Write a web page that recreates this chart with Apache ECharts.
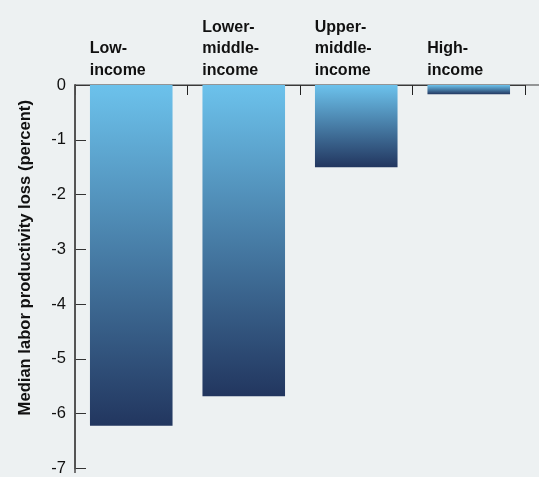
<!DOCTYPE html>
<html>
<head>
<meta charset="utf-8">
<script src="https://cdn.jsdelivr.net/npm/echarts@6/dist/echarts.min.js"></script>
<style>
  html, body { margin: 0; padding: 0; background: #edf1f2; }
  #chart { width: 539px; height: 477px; }
</style>
</head>
<body>
<div id="chart"></div>
<script>
// Income groups (two-line labels) and median productivity loss, percent
const categories = ['Low-\nincome', 'Lower-\nmiddle-\nincome', 'Upper-\nmiddle-\nincome', 'High-\nincome'];
const lossValues = [-6.22, -5.68, -1.5, -0.17];
const yTicks = { min: -7, max: 0, interval: 1 };
const yTitle = 'Median labor productivity loss (percent)';

const FONT = '"Liberation Sans", Arial, sans-serif';
const GRID = { left: 75, right: 14, top: 85, bottom: 4 };
const chart = echarts.init(document.getElementById('chart'));
const W = chart.getWidth();
const H = chart.getHeight();

const barGradient = new echarts.graphic.LinearGradient(0, 0, 0, 1, [
  { offset: 0, color: '#6cc2ec' },
  { offset: 1, color: '#22365f' }
]);

chart.setOption({
  backgroundColor: '#edf1f2',
  animation: false,
  grid: GRID,
  // axis rules: zero line across the full width, vertical rule along the grid's left edge
  graphic: [
    {
      type: 'rect',
      shape: { x: GRID.left, y: GRID.top - 0.6, width: W - GRID.left, height: 1.2 },
      style: { fill: '#3a3a3a' },
      z: 1
    },
    {
      type: 'rect',
      shape: { x: GRID.left - 0.8, y: GRID.top, width: 1.6, height: H - GRID.top - GRID.bottom },
      style: { fill: '#555' },
      z: 1
    }
  ],
  xAxis: {
    type: 'category',
    position: 'top',
    data: categories,
    axisLine: { show: true, lineStyle: { color: '#3a3a3a', width: 1 } },
    axisTick: { show: true, inside: true, length: 10, lineStyle: { color: '#222', width: 1 } },
    axisLabel: {
      margin: 4,
      interval: 0,
      align: 'center',
      fontFamily: FONT,
      fontSize: 16,
      fontWeight: 'bold',
      color: '#111',
      lineHeight: 21.5,
      formatter: v => v.split('\n').map(s => '{t|' + s + '}').join('\n'),
      rich: {
        t: { width: 83, align: 'left', fontFamily: FONT, fontSize: 16, fontWeight: 'bold', color: '#111', lineHeight: 21.5 }
      }
    }
  },
  yAxis: {
    type: 'value',
    min: yTicks.min,
    max: yTicks.max,
    interval: yTicks.interval,
    name: yTitle,
    nameLocation: 'middle',
    nameGap: 41,
    nameRotate: 90,
    nameTextStyle: { fontFamily: FONT, fontSize: 16.6, fontWeight: 'bold', color: '#111', padding: [0, 0, 0, 38] },
    axisLine: { show: true, lineStyle: { color: '#555', width: 2 } },
    axisTick: { show: true, inside: true, length: 11, lineStyle: { color: '#333', width: 1 } },
    axisLabel: { margin: 9, fontFamily: FONT, fontSize: 16.5, color: '#111' },
    splitLine: { show: false }
  },
  series: [{
    type: 'bar',
    data: lossValues,
    barCategoryGap: '26.6%',
    z: 2,
    itemStyle: { color: barGradient }
  }]
});
</script>
</body>
</html>
